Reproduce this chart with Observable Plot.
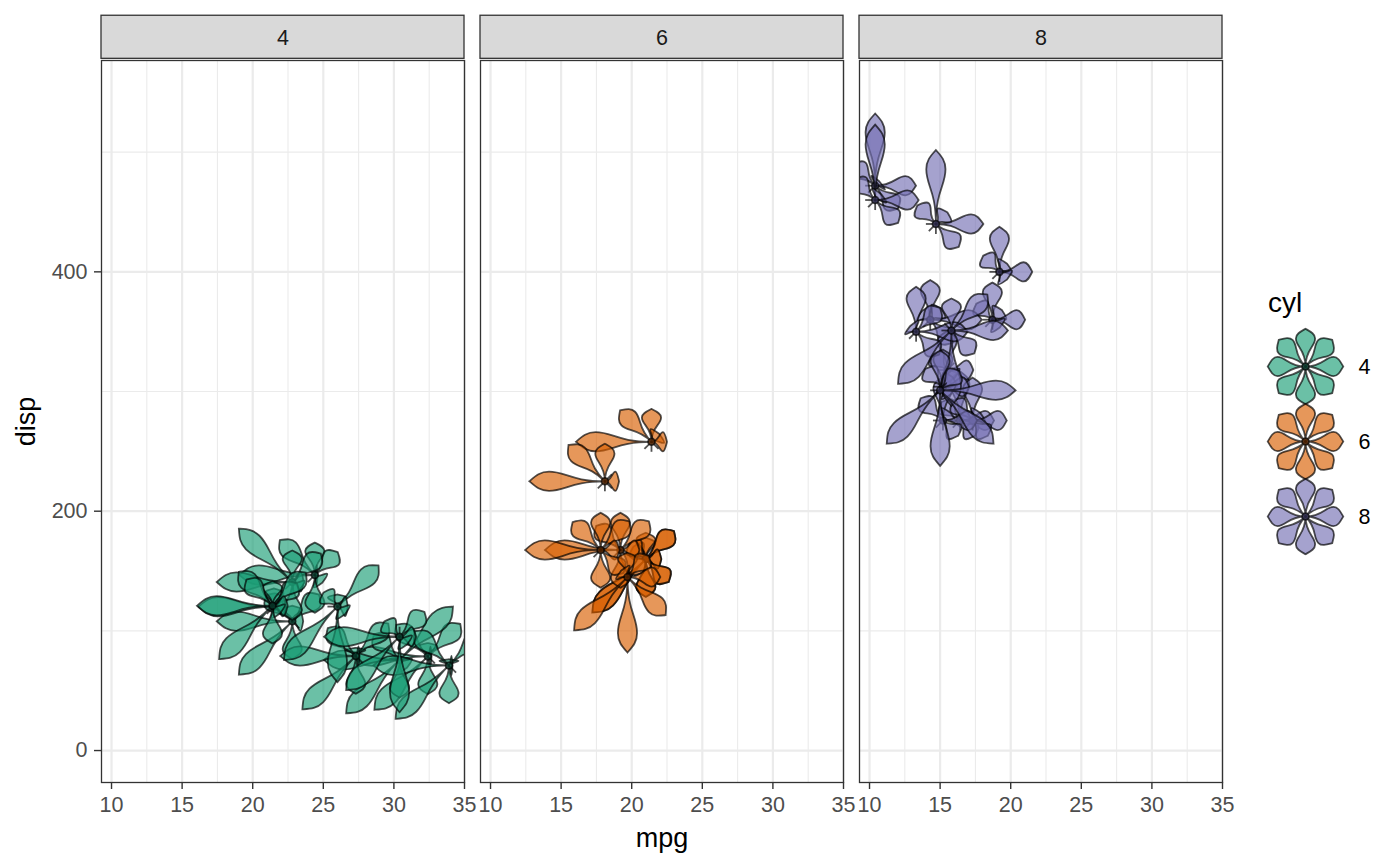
<!DOCTYPE html>
<html><head><meta charset="utf-8">
<script src="https://cdn.jsdelivr.net/npm/d3@7"></script>
<script src="https://cdn.jsdelivr.net/npm/@observablehq/plot@0.6"></script>
<style>
html,body{margin:0;padding:0;background:#fff;width:1400px;height:866px;overflow:hidden;font-family:"Liberation Sans",Arial,sans-serif}
#chart{position:absolute;left:0;top:0}
#legend{position:absolute;left:1240px;top:280px}
#legendTitle{position:absolute;left:1268px;top:288px;font-size:28px;line-height:30px;color:#000}
</style></head><body>
<div id="chart"></div><div id="legendTitle">cyl</div><div id="legend"></div>
<script>
const mpg=[21,21,22.8,21.4,18.7,18.1,14.3,24.4,22.8,19.2,17.8,16.4,17.3,15.2,10.4,10.4,14.7,32.4,30.4,33.9,21.5,15.5,15.2,13.3,19.2,27.3,26,30.4,15.8,19.7,15,21.4];
const cyl=[6,6,4,6,8,6,8,4,4,6,6,8,8,8,8,8,8,4,4,4,4,8,8,8,8,4,4,4,8,6,8,4];
const disp=[160,160,108,258,360,225,360,146.7,140.8,167.6,167.6,275.8,275.8,275.8,472,460,440,78.7,75.7,71.1,120.1,318,304,350,400,79,120.3,95.1,351,145,301,121];
const hp=[110,110,93,110,175,105,245,62,95,123,123,180,180,180,205,215,230,66,52,65,97,150,150,245,175,66,91,113,264,175,335,109];
const drat=[3.9,3.9,3.85,3.08,3.15,2.76,3.21,3.69,3.92,3.92,3.92,3.07,3.07,3.07,2.93,3,3.23,4.08,4.93,4.22,3.7,2.76,3.15,3.73,3.08,4.08,4.43,3.77,4.22,3.62,3.54,4.11];
const wt=[2.62,2.875,2.32,3.215,3.44,3.46,3.57,3.19,3.15,3.44,3.44,4.07,3.73,3.78,5.25,5.424,5.345,2.2,1.615,1.835,2.465,3.52,3.435,3.84,3.845,1.935,2.14,1.513,3.17,2.77,3.57,2.78];
const qsec=[16.46,17.02,18.61,19.44,17.02,20.22,15.84,20,22.9,18.3,18.9,17.4,17.6,18,17.98,17.82,17.42,19.47,18.52,19.9,20.01,16.87,17.3,15.41,17.05,18.9,16.7,16.9,14.5,15.5,14.6,18.6];
const vs=[0,0,1,1,0,1,0,1,1,1,1,0,0,0,0,0,0,1,1,1,1,0,0,0,0,1,0,1,0,0,0,1];
const am=[1,1,1,0,0,0,0,0,0,0,0,0,0,0,0,0,0,1,1,1,0,0,0,0,0,1,1,1,1,1,1,1];
const gear=[4,4,4,3,3,3,3,4,4,4,4,3,3,3,3,3,3,4,4,4,3,3,3,3,3,4,5,5,5,5,5,4];
const carb=[4,4,1,1,2,1,4,2,2,4,4,3,3,3,4,4,4,1,2,1,1,2,2,4,2,1,2,2,4,6,8,2];

const cylLevels=[4,6,8];
const centerLevels=["4c","6c","8c"];
const palette=["#1B9E77","#D95F02","#7570B3"];
const centerPalette=["#0b4a38","#682d01","#373460"];
const petalVars=[wt,drat,hp,carb,gear,am,vs,qsec];
const petalAngles=[0,45,90,135,180,225,270,315];
const xMajor=[10,15,20,25,30,35];
const xMinor=[12.5,17.5,22.5,27.5,32.5];
const yMajor=[0,200,400];
const yMinor=[100,300,500];
const xDomain=[9.29,35];
const yDomain=[-26.7,576.6];
const stripBand=[578,614];
const centerSize=.045;

const petal={draw(ctx,size){
  const L=Math.sqrt(size/Math.PI), W=9.6;
  if(L<0.5){ctx.moveTo(0,0);ctx.lineTo(0,-10);return;}
  ctx.moveTo(0,0);
  ctx.bezierCurveTo(0,-.45*L,W,-.52*L,W,-.74*L);
  ctx.bezierCurveTo(W,-.86*L,W*.55,-.92*L,0,-L);
  ctx.bezierCurveTo(-W*.55,-.92*L,-W,-.86*L,-W,-.74*L);
  ctx.bezierCurveTo(-W,-.52*L,0,-.45*L,0,0);
  ctx.closePath();
}};

const rows=[];
mpg.forEach((m,i)=>{
  petalVars.forEach((v,k)=>{
    const [lo,hi]=d3.extent(v);
    rows.push({mpg:m,disp:disp[i],cyl:cyl[i],part:"petal",tone:cyl[i],angle:petalAngles[k],value:(v[i]-lo)/(hi-lo)});
  });
  rows.push({mpg:m,disp:disp[i],cyl:cyl[i],part:"center",tone:cyl[i]+"c",angle:0,value:centerSize});
});
const legendRows=cylLevels.flatMap(c=>[
  ...petalAngles.map(a=>({cyl:c,part:"petal",tone:c,angle:a,value:.5})),
  {cyl:c,part:"center",tone:c+"c",angle:0,value:centerSize}
]);

const flowerStyle={symbol:"part",rotate:"angle",r:"value",fill:"tone",stroke:"#000",strokeOpacity:.68,strokeWidth:1.8,fillOpacity:.65,sort:null};
const colorScale={type:"ordinal",domain:[...cylLevels,...centerLevels],range:[...palette,...centerPalette]};
const rScale={type:"linear",domain:[0,1],range:[.01,75.5]};
const symbolScale={domain:["petal","center"],range:[petal,d3.symbolCircle]};
const fontFamily="Liberation Sans, Arial, sans-serif";
const axisStyle={label:null,tickSize:7,fontSize:21.5,color:"#4d4d4d",stroke:"#333",strokeWidth:1.4,tickFormat:d=>String(d)};

const chart=Plot.plot({
  width:1400,height:866,
  marginLeft:101.1,marginRight:177.9,marginTop:60,marginBottom:84,
  style:{background:"#fff",fontFamily},
  x:{domain:xDomain,axis:null},
  y:{domain:yDomain,axis:null},
  fx:{domain:cylLevels,axis:null,paddingInner:.043,paddingOuter:0},
  color:colorScale,r:rScale,symbol:symbolScale,
  marks:[
    Plot.ruleX(xMinor,{stroke:"#ebebeb",strokeWidth:1.1}),
    Plot.ruleY(yMinor,{stroke:"#ebebeb",strokeWidth:1.1}),
    Plot.ruleX(xMajor,{stroke:"#ebebeb",strokeWidth:2.2}),
    Plot.ruleY(yMajor,{stroke:"#ebebeb",strokeWidth:2.2}),
    Plot.dot(rows,{x:"mpg",y:"disp",fx:"cyl",clip:"frame",...flowerStyle}),
    Plot.frame({stroke:"#333",strokeWidth:1.3}),
    Plot.rect(cylLevels,{fx:d=>d,x1:xDomain[0],x2:xDomain[1],y1:stripBand[0],y2:stripBand[1],fill:"#d9d9d9",stroke:"#333",strokeWidth:1.3}),
    Plot.text(cylLevels,{fx:d=>d,x:d3.mean(xDomain),y:d3.mean(stripBand),dy:.5,text:d=>String(d),fill:"#1a1a1a",fontSize:21.5}),
    Plot.axisX({ticks:xMajor,anchor:"bottom",tickPadding:7,...axisStyle}),
    Plot.axisY({ticks:yMajor,anchor:"left",tickPadding:7,...axisStyle}),
    Plot.text(["mpg"],{fx:()=>6,frameAnchor:"bottom",dy:56,lineAnchor:"middle",text:d=>d,fontSize:27,fill:"#000"}),
    Plot.text(["disp"],{fx:()=>4,frameAnchor:"left",dx:-75,rotate:-90,textAnchor:"middle",text:d=>d,fontSize:27,fill:"#000"})
  ]
});
document.getElementById("chart").append(chart);

const legend=Plot.plot({
  width:160,height:300,margin:0,
  style:{background:"transparent",fontFamily,overflow:"visible"},
  x:{type:"point",domain:["key","label"],range:[65,118],padding:0,axis:null},
  y:{type:"point",domain:cylLevels,range:[85.7,237],padding:0,axis:null},
  color:colorScale,r:rScale,symbol:symbolScale,
  marks:[
    Plot.dot(legendRows,{x:d=>"key",y:"cyl",...flowerStyle}),
    Plot.text(cylLevels,{x:d=>"label",y:d=>d,dy:.5,text:d=>String(d),textAnchor:"start",fill:"#000",fontSize:21.5})
  ]
});
document.getElementById("legend").append(legend);
</script></body></html>
